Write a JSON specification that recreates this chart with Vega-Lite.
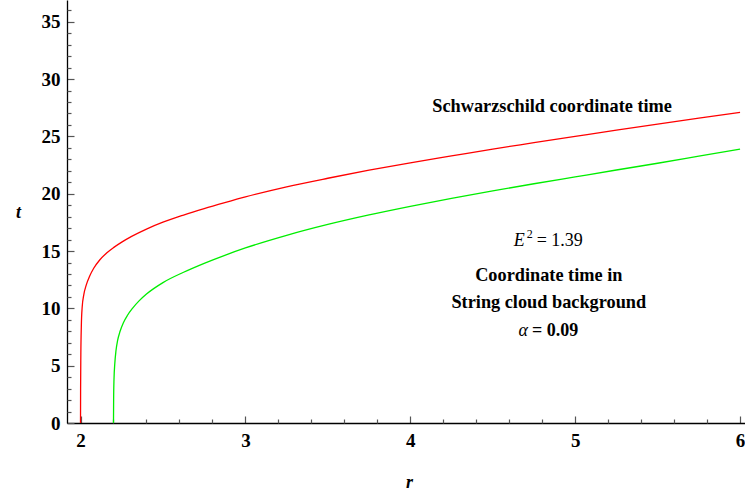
{
  "$schema": "https://vega.github.io/schema/vega-lite/v6.json",
  "width": 678,
  "height": 423,
  "autosize": {"type": "none"},
  "padding": {"left": 67, "top": 0, "right": 0, "bottom": 72},
  "background": "white",
  "config": {
    "view": {"stroke": null},
    "font": "Liberation Serif",
    "axis": {
      "grid": false,
      "domainColor": "black",
      "domainWidth": 1.3,
      "tickColor": "#555555",
      "tickWidth": 1.2,
      "labelFont": "Liberation Serif",
      "labelFontWeight": "bold",
      "labelFontSize": 19,
      "labelColor": "black",
      "titleFont": "Liberation Serif",
      "titleFontSize": 18,
      "titleFontStyle": "italic",
      "titleFontWeight": "bold",
      "titleColor": "black"
    }
  },
  "datasets": {
    "curves": [
      {"r": 2.0, "t": 0, "series": "Schwarzschild"},
      {"r": 2.0005, "t": 3.0, "series": "Schwarzschild"},
      {"r": 2.002, "t": 6.0, "series": "Schwarzschild"},
      {"r": 2.005, "t": 8.5, "series": "Schwarzschild"},
      {"r": 2.01, "t": 10.1, "series": "Schwarzschild"},
      {"r": 2.02, "t": 11.2, "series": "Schwarzschild"},
      {"r": 2.035, "t": 12.05, "series": "Schwarzschild"},
      {"r": 2.055, "t": 12.8, "series": "Schwarzschild"},
      {"r": 2.08, "t": 13.5, "series": "Schwarzschild"},
      {"r": 2.115, "t": 14.2, "series": "Schwarzschild"},
      {"r": 2.16, "t": 14.85, "series": "Schwarzschild"},
      {"r": 2.2, "t": 15.3, "series": "Schwarzschild"},
      {"r": 2.25, "t": 15.78, "series": "Schwarzschild"},
      {"r": 2.31, "t": 16.28, "series": "Schwarzschild"},
      {"r": 2.4, "t": 16.92, "series": "Schwarzschild"},
      {"r": 2.5, "t": 17.52, "series": "Schwarzschild"},
      {"r": 2.625, "t": 18.14, "series": "Schwarzschild"},
      {"r": 2.75, "t": 18.7, "series": "Schwarzschild"},
      {"r": 2.875, "t": 19.22, "series": "Schwarzschild"},
      {"r": 3.0, "t": 19.72, "series": "Schwarzschild"},
      {"r": 3.25, "t": 20.6, "series": "Schwarzschild"},
      {"r": 3.5, "t": 21.35, "series": "Schwarzschild"},
      {"r": 3.75, "t": 22.05, "series": "Schwarzschild"},
      {"r": 4.0, "t": 22.7, "series": "Schwarzschild"},
      {"r": 4.25, "t": 23.3, "series": "Schwarzschild"},
      {"r": 4.5, "t": 23.9, "series": "Schwarzschild"},
      {"r": 4.75, "t": 24.45, "series": "Schwarzschild"},
      {"r": 5.0, "t": 25.0, "series": "Schwarzschild"},
      {"r": 5.25, "t": 25.55, "series": "Schwarzschild"},
      {"r": 5.5, "t": 26.08, "series": "Schwarzschild"},
      {"r": 5.75, "t": 26.6, "series": "Schwarzschild"},
      {"r": 6.0, "t": 27.1, "series": "Schwarzschild"},
      {"r": 2.2, "t": 0, "series": "String cloud"},
      {"r": 2.2008, "t": 2.0, "series": "String cloud"},
      {"r": 2.203, "t": 3.8, "series": "String cloud"},
      {"r": 2.208, "t": 5.2, "series": "String cloud"},
      {"r": 2.215, "t": 6.3, "series": "String cloud"},
      {"r": 2.225, "t": 7.2, "series": "String cloud"},
      {"r": 2.24, "t": 8.0, "series": "String cloud"},
      {"r": 2.26, "t": 8.75, "series": "String cloud"},
      {"r": 2.285, "t": 9.4, "series": "String cloud"},
      {"r": 2.315, "t": 10.0, "series": "String cloud"},
      {"r": 2.355, "t": 10.65, "series": "String cloud"},
      {"r": 2.4, "t": 11.25, "series": "String cloud"},
      {"r": 2.5, "t": 12.25, "series": "String cloud"},
      {"r": 2.625, "t": 13.15, "series": "String cloud"},
      {"r": 2.75, "t": 13.93, "series": "String cloud"},
      {"r": 2.875, "t": 14.63, "series": "String cloud"},
      {"r": 3.0, "t": 15.27, "series": "String cloud"},
      {"r": 3.25, "t": 16.37, "series": "String cloud"},
      {"r": 3.5, "t": 17.32, "series": "String cloud"},
      {"r": 3.75, "t": 18.15, "series": "String cloud"},
      {"r": 4.0, "t": 18.9, "series": "String cloud"},
      {"r": 4.25, "t": 19.6, "series": "String cloud"},
      {"r": 4.5, "t": 20.25, "series": "String cloud"},
      {"r": 4.75, "t": 20.87, "series": "String cloud"},
      {"r": 5.0, "t": 21.47, "series": "String cloud"},
      {"r": 5.25, "t": 22.07, "series": "String cloud"},
      {"r": 5.5, "t": 22.66, "series": "String cloud"},
      {"r": 5.75, "t": 23.28, "series": "String cloud"},
      {"r": 6.0, "t": 23.9, "series": "String cloud"}
    ]
  },
  "layer": [
    {
      "data": {"name": "curves"},
      "mark": {"type": "line", "strokeWidth": 1.3, "interpolate": "monotone", "clip": true},
      "encoding": {
        "x": {
          "field": "r", "type": "quantitative",
          "scale": {"domain": [1.918, 6.03], "nice": false, "zero": false},
          "axis": {
            "title": "r", "values": [2, 3, 4, 5, 6], "format": "d",
            "tickSize": -7, "labelPadding": 15,
            "titleX": 342, "titleY": 64, "titleBaseline": "alphabetic", "titleAnchor": null
          }
        },
        "y": {
          "field": "t", "type": "quantitative",
          "scale": {"domain": [0, 36.9], "nice": false},
          "axis": {
            "title": "t", "values": [0, 5, 10, 15, 20, 25, 30, 35],
            "tickSize": -7, "labelPadding": 14,
            "titleAngle": 0, "titleX": -49, "titleY": 212,
            "titleAlign": "center", "titleBaseline": "middle"
          }
        },
        "color": {
          "field": "series", "type": "nominal",
          "scale": {"domain": ["Schwarzschild", "String cloud"], "range": ["#ff0000", "#00ee00"]},
          "legend": null
        },
        "detail": {"field": "series"}
      }
    },
    {
      "data": {"values": [
        {"r": 4.86, "t": 27.09, "label": "Schwarzschild coordinate time"},
        {"r": 4.84, "t": 12.37, "label": "Coordinate time in"},
        {"r": 4.84, "t": 9.99, "label": "String cloud background"}
      ]},
      "mark": {"type": "text", "font": "Liberation Serif", "fontWeight": "bold", "fontSize": 18.3, "align": "center", "baseline": "alphabetic", "color": "black"},
      "encoding": {
        "x": {
          "field": "r", "type": "quantitative",
          "axis": {
            "orient": "bottom", "title": null, "labels": false, "domain": false,
            "values": [2.2, 2.4, 2.6, 2.8, 3.2, 3.4, 3.6, 3.8, 4.2, 4.4, 4.6, 4.8, 5.2, 5.4, 5.6, 5.8],
            "tickSize": -4
          }
        },
        "y": {
          "field": "t", "type": "quantitative",
          "axis": {
            "orient": "left", "title": null, "labels": false, "domain": false,
            "values": [1, 2, 3, 4, 6, 7, 8, 9, 11, 12, 13, 14, 16, 17, 18, 19, 21, 22, 23, 24, 26, 27, 28, 29, 31, 32, 33, 34, 36],
            "tickSize": -4
          }
        },
        "text": {"field": "label"}
      }
    },
    {
      "data": {"values": [
        {"r": 4.7, "t": 15.43, "label": "E"},
        {"r": 4.72, "t": 7.57, "label": "α"}
      ]},
      "mark": {"type": "text", "font": "Liberation Serif", "fontStyle": "italic", "fontSize": 18, "align": "right", "baseline": "alphabetic", "color": "black", "dx": -1},
      "encoding": {
        "x": {"field": "r", "type": "quantitative", "axis": null},
        "y": {"field": "t", "type": "quantitative", "axis": null},
        "text": {"field": "label"}
      }
    },
    {
      "data": {"values": [
        {"r": 4.7, "t": 15.43, "label": "2"}
      ]},
      "mark": {"type": "text", "font": "Liberation Serif", "fontSize": 12, "align": "left", "baseline": "alphabetic", "color": "black", "dx": 1, "dy": -8},
      "encoding": {
        "x": {"field": "r", "type": "quantitative", "axis": null},
        "y": {"field": "t", "type": "quantitative", "axis": null},
        "text": {"field": "label"}
      }
    },
    {
      "data": {"values": [
        {"r": 4.7, "t": 15.43, "label": "= 1.39"}
      ]},
      "mark": {"type": "text", "font": "Liberation Serif", "fontSize": 18, "align": "left", "baseline": "alphabetic", "color": "black", "dx": 11},
      "encoding": {
        "x": {"field": "r", "type": "quantitative", "axis": null},
        "y": {"field": "t", "type": "quantitative", "axis": null},
        "text": {"field": "label"}
      }
    },
    {
      "data": {"values": [
        {"r": 4.72, "t": 7.57, "label": "= 0.09"}
      ]},
      "mark": {"type": "text", "font": "Liberation Serif", "fontWeight": "bold", "fontSize": 18, "align": "left", "baseline": "alphabetic", "color": "black", "dx": 3},
      "encoding": {
        "x": {"field": "r", "type": "quantitative", "axis": null},
        "y": {"field": "t", "type": "quantitative", "axis": null},
        "text": {"field": "label"}
      }
    }
  ],
  "resolve": {"axis": {"x": "independent", "y": "independent"}}
}
